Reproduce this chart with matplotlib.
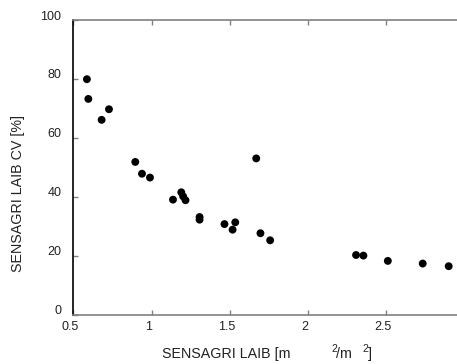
import matplotlib
matplotlib.use("Agg")
import matplotlib.pyplot as plt
import matplotlib.transforms as mtransforms

plt.rcParams['font.family'] = ['Liberation Sans', 'DejaVu Sans']

laib = [0.587, 0.596, 0.681, 0.728, 0.896, 0.939, 0.990, 1.137, 1.190, 1.202,
        1.217, 1.307, 1.307, 1.466, 1.518, 1.535, 1.669, 1.696, 1.758, 2.307,
        2.354, 2.510, 2.733, 2.899]
cv = [79.9, 73.2, 66.1, 69.7, 51.8, 47.8, 46.5, 39.0, 41.5, 40.1,
      38.8, 33.1, 32.2, 30.7, 28.8, 31.3, 53.0, 27.6, 25.2, 20.2,
      20.0, 18.2, 17.3, 16.4]
xticks = [0.5, 1, 1.5, 2, 2.5]
xticklabels = ['0.5', '1', '1.5', '2', '2.5']
yticks = [0, 20, 40, 60, 80, 100]
yticklabels = ['0', '20', '40', '60', '80', '100']

W, H = 457, 364
fig = plt.figure(figsize=(W / 100, H / 100), dpi=100)
left, right, top, bottom = 73.3, 464.5, 20.0, 314.5
ax = fig.add_axes([left / W, 1 - bottom / H, (right - left) / W, (bottom - top) / H])
ax.set_xlim(0.5, 3.0)
ax.set_ylim(0, 100)

ax.scatter(laib, cv, s=32, color='black', edgecolors='none', zorder=3, clip_on=False)

gray = '#808080'
for s in ['top', 'bottom', 'right']:
    ax.spines[s].set_color(gray)
    ax.spines[s].set_linewidth(1.2)
ax.spines['left'].set_color('black')
ax.spines['left'].set_linewidth(1.2)

ax.set_xticks(xticks)
ax.set_xticklabels(xticklabels)
ax.set_yticks(yticks)
ax.set_yticklabels(yticklabels)
ax.tick_params(axis='both', direction='in', length=3.5, width=1, color=gray,
               labelsize=9, labelcolor='#222222')
ax.tick_params(axis='x', top=True, bottom=True, pad=5)
ax.tick_params(axis='y', right=False, pad=8.5)

dx = mtransforms.ScaledTranslation(-3 / 100, 0, fig.dpi_scale_trans)
for lbl in ax.get_xticklabels():
    lbl.set_transform(lbl.get_transform() + dx)
dy = mtransforms.ScaledTranslation(0, 5 / 100, fig.dpi_scale_trans)
for lbl in ax.get_yticklabels():
    lbl.set_transform(lbl.get_transform() + dy)

# y label
fig.text(18 / W, 1 - 194 / H, 'SENSAGRI LAIB CV [%]', rotation=90,
         ha='center', va='center', fontsize=10.3, color='#222222')

# x label pieces
base = 1 - 358 / H
sup = 1 - 351.7 / H
fig.text(162.3 / W, base, 'SENSAGRI LAIB [m', ha='left', va='baseline', fontsize=10.3, color='#222222')
fig.text(331.5 / W, sup, '2', ha='left', va='baseline', fontsize=7.5, color='#222222')
fig.text(336.5 / W, base, '/m', ha='left', va='baseline', fontsize=10.3, color='#222222')
fig.text(362.5 / W, sup, '2', ha='left', va='baseline', fontsize=7.5, color='#222222')
fig.text(368 / W, base, ']', ha='left', va='baseline', fontsize=10.3, color='#222222')

fig.savefig('out.png', dpi=100)
